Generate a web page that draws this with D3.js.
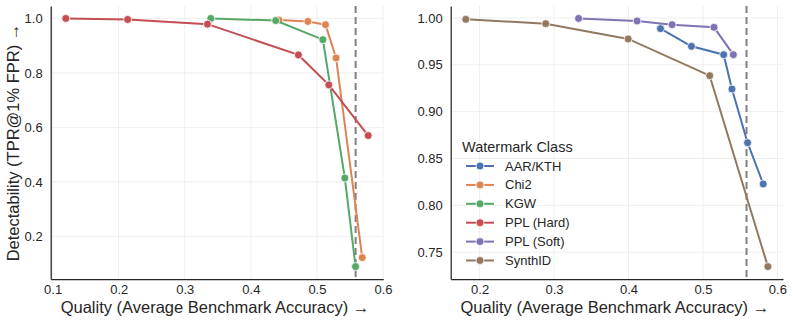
<!DOCTYPE html>
<html lang="en">
<head>
<meta charset="UTF-8">
<title>Watermark detectability vs quality</title>
<style>
    body { margin: 0; background: #fff; }
    svg { font-family: Arial, "Liberation Sans", sans-serif; }
    .grid line { stroke: #ebebeb; stroke-width: 0.8px; }
    .tick text { fill: #262626; font-size: 13px; }
    .axis path.domain { stroke: #262626; stroke-width: 1.25px; }
    .axis-label { fill: #262626; font-size: 16.5px; }
    .series { fill: none; stroke-width: 2px; }
    .dot { stroke: #fff; stroke-width: 0.8px; }
    .legend text { fill: #262626; font-size: 13px; }
</style>
</head>
<body>
<script src="https://cdn.jsdelivr.net/npm/d3@7"></script>
<script>
    // class names + palette (seaborn deep)
    const classes = ['AAR/KTH', 'Chi2', 'KGW', 'PPL (Hard)', 'PPL (Soft)', 'SynthID'];
    const palette = ['#4c72b0', '#dd8452', '#55a868', '#c44e52', '#8172b3', '#937860'];

    // left panel
    const chi2Q = [0.4426, 0.4864, 0.513, 0.529, 0.5686];
    const chi2D = [0.994, 0.989, 0.977, 0.855, 0.122];
    const kgwQ = [0.3394, 0.4376, 0.509, 0.5423, 0.5585];
    const kgwD = [1.0, 0.992, 0.922, 0.414, 0.089];
    const pplHardQ = [0.120, 0.2136, 0.3344, 0.472, 0.518, 0.5776];
    const pplHardD = [1.0, 0.996, 0.979, 0.866, 0.756, 0.570];

    // right panel
    const aarQ = [0.443, 0.4846, 0.5279, 0.539, 0.560, 0.581];
    const aarD = [0.9886, 0.9697, 0.9608, 0.9241, 0.8668, 0.8228];
    const pplSoftQ = [0.333, 0.4116, 0.4586, 0.5149, 0.5409];
    const pplSoftD = [0.9995, 0.9968, 0.9928, 0.990, 0.9608];
    const synthQ = [0.1815, 0.2888, 0.3996, 0.5091, 0.5873];
    const synthD = [0.9985, 0.9939, 0.9776, 0.9384, 0.7346];

    const refQuality = 0.5586;

    const leftTicksX = [0.1, 0.2, 0.3, 0.4, 0.5, 0.6];
    const leftTicksY = [0.2, 0.4, 0.6, 0.8, 1.0];
    const rightTicksX = [0.2, 0.3, 0.4, 0.5, 0.6];
    const rightTicksY = [0.75, 0.80, 0.85, 0.90, 0.95, 1.00];

    const zip = (qs, ds) => qs.map((q, i) => ({q: q, d: ds[i]}));

    const panels = [
        {
            left: 50.7, right: 383.3,
            series: [
                {name: 'Chi2', pts: zip(chi2Q, chi2D)},
                {name: 'KGW', pts: zip(kgwQ, kgwD)},
                {name: 'PPL (Hard)', pts: zip(pplHardQ, pplHardD)}
            ],
            ticksX: leftTicksX, ticksY: leftTicksY, fmtY: d3.format('.1f'), ylabel: true
        },
        {
            left: 450.7, right: 783,
            series: [
                {name: 'AAR/KTH', pts: zip(aarQ, aarD)},
                {name: 'PPL (Soft)', pts: zip(pplSoftQ, pplSoftD)},
                {name: 'SynthID', pts: zip(synthQ, synthD)}
            ],
            ticksX: rightTicksX, ticksY: rightTicksY, fmtY: d3.format('.2f'), legend: true
        }
    ];

    const width = 793, height = 324;
    const plotTop = 6, plotBottom = 279;

    const color = d3.scaleOrdinal().domain(classes).range(palette);

    const svg = d3.select('body').append('svg')
        .attr('width', width)
        .attr('height', height);

    // matplotlib-style 5% padding
    function padded(vals) {
        const [lo, hi] = d3.extent(vals);
        const m = (hi - lo) * 0.05;
        return [lo - m, hi + m];
    }

    panels.forEach(p => {
        const all = p.series.flatMap(s => s.pts);
        const x = d3.scaleLinear().domain(padded(all.map(d => d.q))).range([p.left, p.right]);
        const y = d3.scaleLinear().domain(padded(all.map(d => d.d))).range([plotBottom, plotTop]);

        const g = svg.append('g');

        // grid
        const grid = g.append('g').attr('class', 'grid');
        grid.selectAll('line.gx').data(p.ticksX).enter().append('line')
            .attr('x1', d => x(d)).attr('x2', d => x(d))
            .attr('y1', plotTop).attr('y2', plotBottom);
        grid.selectAll('line.gy').data(p.ticksY).enter().append('line')
            .attr('x1', p.left).attr('x2', p.right)
            .attr('y1', d => y(d)).attr('y2', d => y(d));

        // axes
        g.append('g')
            .attr('class', 'axis')
            .attr('transform', `translate(0,${plotBottom})`)
            .call(d3.axisBottom(x).tickValues(p.ticksX).tickSize(0).tickPadding(6).tickSizeOuter(0)
                .tickFormat(d3.format('.1f')));

        g.append('g')
            .attr('class', 'axis')
            .attr('transform', `translate(${p.left},0)`)
            .call(d3.axisLeft(y).tickValues(p.ticksY).tickSize(0).tickPadding(8).tickSizeOuter(0)
                .tickFormat(p.fmtY));

        g.selectAll('.axis').attr('font-family', null).attr('font-size', null);

        // reference line
        g.append('line')
            .attr('x1', x(refQuality)).attr('x2', x(refQuality))
            .attr('y1', plotTop).attr('y2', plotBottom)
            .attr('stroke', '#808080')
            .attr('stroke-width', 2)
            .attr('stroke-dasharray', '7,4');

        const line = d3.line().x(d => x(d.q)).y(d => y(d.d));

        p.series.forEach(s => {
            g.append('path')
                .datum(s.pts)
                .attr('class', 'series')
                .attr('stroke', color(s.name))
                .attr('d', line);
            g.selectAll(null).data(s.pts).enter().append('circle')
                .attr('class', 'dot')
                .attr('cx', d => x(d.q))
                .attr('cy', d => y(d.d))
                .attr('r', 4)
                .attr('fill', color(s.name));
        });

        // x label
        g.append('text')
            .attr('class', 'axis-label')
            .attr('x', (p.left + p.right) / 2 - 2)
            .attr('y', 313)
            .attr('text-anchor', 'middle')
            .text('Quality (Average Benchmark Accuracy) \u2192');

        if (p.ylabel) {
            g.append('text')
                .attr('class', 'axis-label')
                .attr('transform', `translate(19,${(plotTop + plotBottom) / 2}) rotate(-90)`)
                .attr('text-anchor', 'middle')
                .text('Detectability (TPR@1% FPR) \u2192');
        }

        if (p.legend) {
            const lg = g.append('g').attr('class', 'legend')
                .attr('transform', 'translate(462,0)');
            lg.append('text')
                .attr('x', 0).attr('y', 152)
                .style('font-size', '14.5px')
                .text('Watermark Class');
            const item = lg.selectAll('g.item').data(classes).enter().append('g')
                .attr('class', 'item')
                .attr('transform', (d, i) => `translate(0,${166 + i * 18.9})`);
            item.append('line')
                .attr('x1', 4).attr('x2', 32)
                .attr('stroke', d => color(d))
                .attr('stroke-width', 2);
            item.append('circle')
                .attr('class', 'dot')
                .attr('cx', 18).attr('r', 4)
                .attr('fill', d => color(d));
            item.append('text')
                .attr('x', 43).attr('dy', '0.35em')
                .text(d => d);
        }
    });
</script>
</body>
</html>
